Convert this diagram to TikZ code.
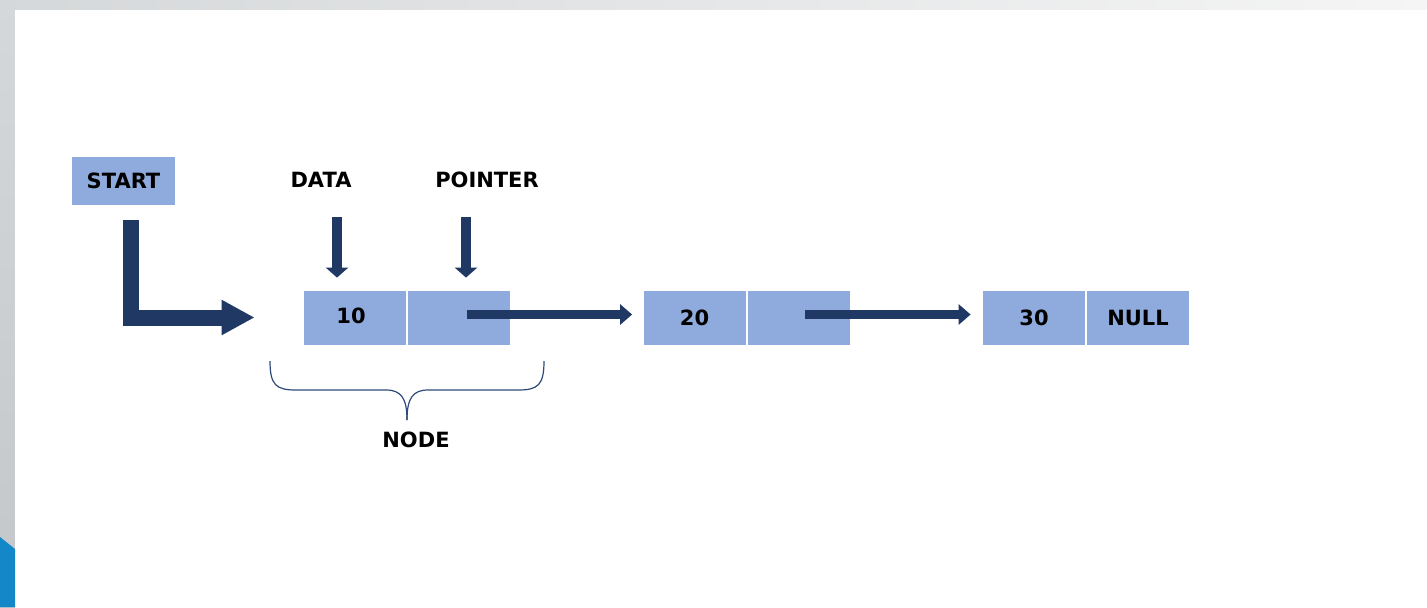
\documentclass[tikz,border=0pt]{standalone}
\usepackage{fontspec}
\setmainfont{DejaVu Sans}
\usetikzlibrary{arrows.meta}
\definecolor{cellblue}{HTML}{8FAADC}
\definecolor{navy}{HTML}{203864}
\definecolor{bracecol}{HTML}{2F4A7A}
\definecolor{accent}{HTML}{1387C8}
\definecolor{slidegrayA}{HTML}{D5D8DA}
\definecolor{slidegrayB}{HTML}{F5F5F5}
\definecolor{slidegrayC}{HTML}{C3C7C9}
\begin{document}
\begin{tikzpicture}[x=0.5pt,y=-0.5pt,
  txt/.style={font=\fontsize{10.5}{12}\selectfont\bfseries, text=black},
  startbox/.style={txt, fill=cellblue, minimum width=51.5pt, minimum height=24pt, inner sep=0pt},
  cell/.style={txt, fill=cellblue, minimum width=51pt, minimum height=27pt, inner sep=0pt},
  caption/.style={txt, inner sep=0pt},
  thickarrow/.style={draw=navy, line width=8pt, line join=miter, -{Triangle[length=16.5pt,width=16.5pt]}},
  downarrow/.style={draw=navy, line width=5pt, -{Triangle[length=5pt,width=11pt]}},
  linkarrow/.style={draw=navy, line width=4.5pt, -{Triangle[length=6pt,width=10pt]}},
  brace/.style={draw=bracecol, line width=0.6pt}]
\useasboundingbox (0,0) rectangle (1427,607);
% slide background
\shade[left color=slidegrayA, right color=slidegrayB] (0,0) rectangle (1427,10);
\shade[top color=slidegrayA, bottom color=slidegrayC] (0,0) rectangle (15,607);
\fill[white] (15,10) rectangle (1427,607);
\fill[accent] (0,537) -- (15,549) -- (15,607) -- (0,607) -- cycle;

% labels
\node[startbox] (start) at (123.5,181) {START};
\node[caption] (data) at (321,180) {DATA};
\node[caption] (ptr) at (487,180) {POINTER};

% list nodes
\node[cell] (n1a) at (355,318) {\hspace*{-4pt}\raisebox{2.5pt}{10}};
\node[cell] (n1b) at (458.5,318) {};
\node[cell] (n2a) at (694.5,318) {20};
\node[cell] (n2b) at (798.5,318) {};
\node[cell] (n3a) at (1034,318) {30};
\node[cell] (n3b) at (1138,318) {NULL};

% start pointer
\draw[thickarrow] ([xshift=3.75pt,yshift=-7.5pt]start.south) |- ([xshift=-24.5pt,yshift=0.25pt]n1a.west);

% field arrows
\draw[downarrow, shorten <=14.5pt] ([xshift=8pt]data.south) -- ([xshift=-9pt,yshift=6.5pt]n1a.north);
\draw[downarrow, shorten <=14.5pt] ([xshift=-10.5pt]ptr.south) -- ([xshift=3.75pt,yshift=6.5pt]n1b.north);

% links
\draw[linkarrow, shorten >=5.5pt] ([xshift=4.25pt,yshift=1.75pt]n1b.center) -- ([yshift=1.75pt]n2a.west);
\draw[linkarrow, shorten >=6pt] ([xshift=3.25pt,yshift=1.75pt]n2b.center) -- ([yshift=1.75pt]n3a.west);

% brace under the first node
\draw[brace] (270,361) .. controls (270,385) and (276,390) .. (296,390) -- (386,390)
  .. controls (401,390) and (407,398) .. (407,420);
\draw[brace] (544,361) .. controls (544,385) and (538,390) .. (518,390) -- (428,390)
  .. controls (413,390) and (407,398) .. (407,420);
\node[caption] (nodelbl) at (416,440) {NODE};
\end{tikzpicture}
\end{document}
